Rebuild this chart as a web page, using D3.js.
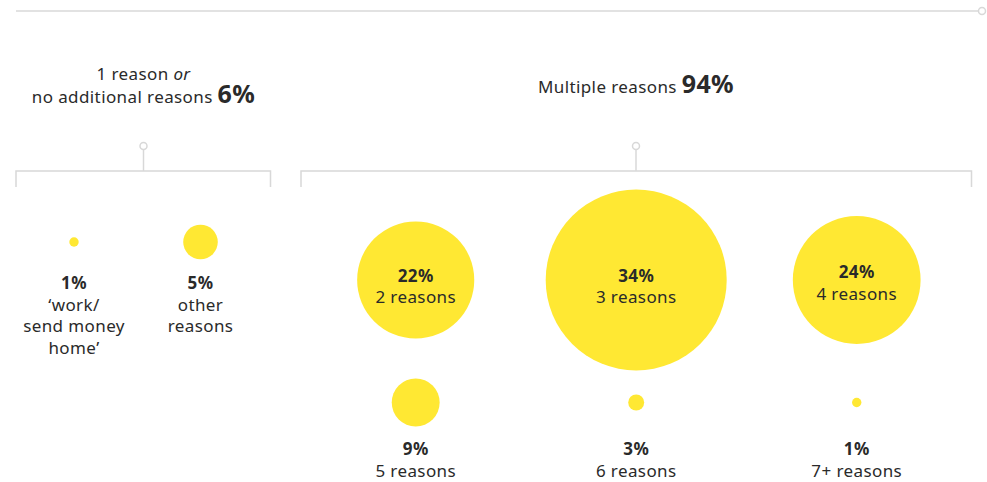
<!DOCTYPE html>
<html>
<head>
<meta charset="utf-8">
<script src="https://cdn.jsdelivr.net/npm/d3@7"></script>
<style>
  body { margin: 0; background: #fff; }
  svg text { font-family: "Noto Sans", sans-serif; fill: #2a2a2a; letter-spacing: 0.4px; }
</style>
</head>
<body>
<div class="canvas"></div>
<script>
// data
const groupNames = ["1 reason", "Multiple reasons"];
const groupTotals = [6, 94];

const singleLabels = [["‘work/", "send money", "home’"], ["other", "reasons"]];
const singleValues = [1, 5];

const multiLabels = ["2 reasons", "3 reasons", "4 reasons", "5 reasons", "6 reasons", "7+ reasons"];
const multiValues = [22, 34, 24, 9, 3, 1];

const dims = {width: 987, height: 482};
const grey = "#d8d8d8";
const yellow = "#ffe833";
const fs = 17;

const svg = d3.select(".canvas").append("svg")
    .attr("width", dims.width)
    .attr("height", dims.height);

// radius scales (left group drawn a touch larger in the original)
const rMulti = d3.scaleLinear().domain([0, 34]).range([0, 90.5]);
const rSingle = d3.scaleLinear().domain([0, 5]).range([0, 17.3]);
const minR = 4.7;

// column positions
const xSingle = d3.scalePoint().domain(d3.range(singleValues.length)).range([74, 200.5]);
const xMulti = d3.scalePoint().domain([0, 1, 2]).range([415.7, 856.7]);
const rowY = [280, 402.5];

// top rule
svg.append("line")
    .attr("x1", 16).attr("x2", 978.5)
    .attr("y1", 11).attr("y2", 11)
    .attr("stroke", grey).attr("stroke-width", 1.5);
svg.append("circle")
    .attr("cx", 982).attr("cy", 11).attr("r", 3.5)
    .attr("fill", "#fff").attr("stroke", grey).attr("stroke-width", 1.5);

// brackets
const brackets = [
    {x0: 16, x1: 270.5, cx: 143.5},
    {x0: 301, x1: 971.5, cx: 636}
];

brackets.forEach(b => {
    const g = svg.append("g");
    g.append("path")
        .attr("d", `M${b.x0},187V171H${b.x1}V187`)
        .attr("fill", "none").attr("stroke", grey).attr("stroke-width", 1.5);
    g.append("line")
        .attr("x1", b.cx).attr("x2", b.cx)
        .attr("y1", 149.5).attr("y2", 171)
        .attr("stroke", grey).attr("stroke-width", 1.5);
    g.append("circle")
        .attr("cx", b.cx).attr("cy", 146).attr("r", 3.5)
        .attr("fill", "#fff").attr("stroke", grey).attr("stroke-width", 1.5);
});

// group titles
const t1 = svg.append("text").attr("text-anchor", "middle").attr("font-size", fs);
t1.append("tspan").attr("x", brackets[0].cx).attr("y", 80).text(groupNames[0] + " ");
t1.append("tspan").attr("font-style", "italic").text("or");
t1.append("tspan").attr("x", brackets[0].cx).attr("y", 102.5).text("no additional reasons ");
t1.append("tspan").attr("font-weight", 700).attr("font-size", 25).text(groupTotals[0] + "%");

const t2 = svg.append("text").attr("text-anchor", "middle").attr("font-size", fs)
    .attr("x", brackets[1].cx).attr("y", 93);
t2.append("tspan").text(groupNames[1] + " ");
t2.append("tspan").attr("font-weight", 700).attr("font-size", 25).text(groupTotals[1] + "%");

// single-reason bubbles
const single = svg.append("g").selectAll("g")
    .data(singleValues)
    .enter().append("g")
    .attr("transform", (d, i) => `translate(${xSingle(i)},0)`);

single.append("circle")
    .attr("cy", 242)
    .attr("r", d => Math.max(minR, rSingle(d)))
    .attr("fill", yellow);

single.append("text")
    .attr("text-anchor", "middle").attr("font-size", fs)
    .attr("font-weight", 700)
    .attr("y", 289)
    .text(d => d + "%");

single.each(function(d, i) {
    d3.select(this).selectAll("text.lbl")
        .data(singleLabels[i])
        .enter().append("text")
        .attr("class", "lbl")
        .attr("text-anchor", "middle").attr("font-size", fs)
        .attr("y", (l, j) => 310.5 + j * 21.5)
        .text(l => l);
});

// multi-reason bubbles
const multi = svg.append("g").selectAll("g")
    .data(multiValues)
    .enter().append("g")
    .attr("transform", (d, i) => `translate(${xMulti(i % 3)},${rowY[Math.floor(i / 3)]})`);

multi.append("circle")
    .attr("r", d => Math.max(minR, rMulti(d)))
    .attr("fill", yellow);

// labels inside the big ones, below the small ones
multi.append("text")
    .attr("text-anchor", "middle").attr("font-size", fs).attr("font-weight", 700)
    .attr("y", (d, i) => i < 3 ? (i === 2 ? -2 : 2) : 52.5)
    .text(d => d + "%");

multi.append("text")
    .attr("text-anchor", "middle").attr("font-size", fs)
    .attr("y", (d, i) => i < 3 ? (i === 2 ? 19.5 : 23) : 74)
    .text((d, i) => multiLabels[i]);
</script>
</body>
</html>
